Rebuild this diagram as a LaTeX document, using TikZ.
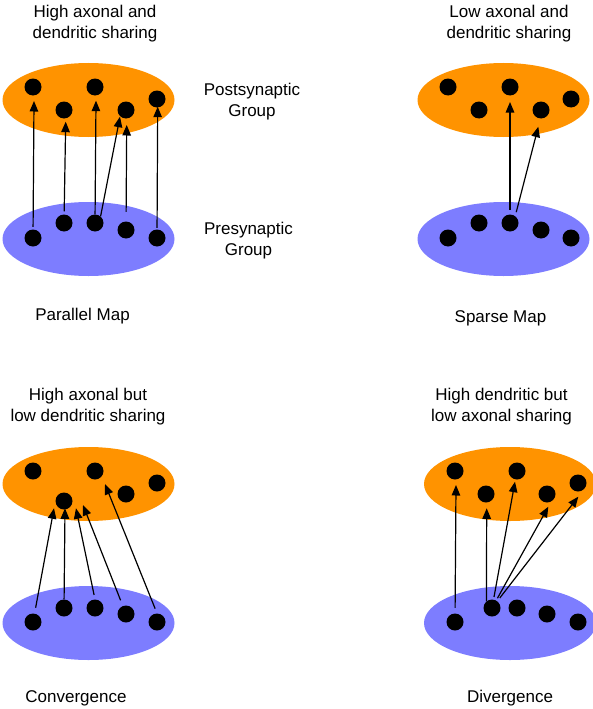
\documentclass[tikz,border=0pt]{standalone}
\usepackage{fontspec}
\setmainfont{Liberation Sans}
\usetikzlibrary{arrows.meta}
\definecolor{postfill}{RGB}{255,147,0}
\definecolor{prefill}{RGB}{125,125,255}
\begin{document}
\begin{tikzpicture}[x=1pt,y=-1pt,
  post/.style={fill=postfill},
  pre/.style={fill=prefill},
  dot/.style={circle,fill=black,inner sep=0pt,minimum size=17pt},
  syn/.style={-{Triangle[length=10.5pt,width=8.5pt]},line width=1.2pt,black},
  lbl/.style={font=\fontsize{17}{21}\selectfont,align=center,anchor=base,inner sep=0pt}]
\useasboundingbox (0,0) rectangle (592,709);

% ---------- group ellipses ----------
\fill[post] (88.5,100) ellipse [x radius=86pt,y radius=37pt];
\fill[pre]  (88.5,239) ellipse [x radius=86pt,y radius=37pt];
\fill[post] (503.5,100) ellipse [x radius=86pt,y radius=37pt];
\fill[pre]  (503.5,239) ellipse [x radius=86pt,y radius=37pt];
\fill[post] (88.5,484) ellipse [x radius=86pt,y radius=37pt];
\fill[pre]  (88.5,623) ellipse [x radius=86pt,y radius=37pt];
\fill[post] (510,484) ellipse [x radius=86pt,y radius=37pt];
\fill[pre]  (510,623) ellipse [x radius=86pt,y radius=37pt];

% ---------- neurons ----------
% parallel map
\foreach \n/\x/\y in {1/33/87,2/64/110,3/95/87,4/126/110,5/157/99}
  \node[dot] (po\n) at (\x,\y) {};
\foreach \n/\x/\y in {1/33/238,2/64/223,3/95/223,4/126/230,5/157/238}
  \node[dot] (pb\n) at (\x,\y) {};
% sparse map
\foreach \n/\x/\y in {1/448/87,2/479/110,3/510/87,4/541/110,5/571/99}
  \node[dot] (so\n) at (\x,\y) {};
\foreach \n/\x/\y in {1/448/238,2/479/223,3/510/223,4/541/230,5/571/238}
  \node[dot] (sb\n) at (\x,\y) {};
% convergence
\foreach \n/\x/\y in {1/33/471,2/64/501,3/95/471,4/126/494,5/157/483}
  \node[dot] (co\n) at (\x,\y) {};
\foreach \n/\x/\y in {1/33/622,2/64/608,3/95/608,4/126/614,5/157/622}
  \node[dot] (cb\n) at (\x,\y) {};
% divergence
\foreach \n/\x/\y in {1/455/471,2/486/494,3/517/471,4/547/494,5/578/483}
  \node[dot] (do\n) at (\x,\y) {};
\foreach \n/\x/\y in {1/455/622,2/492/608,3/517/608,4/547/614,5/578/622}
  \node[dot] (db\n) at (\x,\y) {};

% ---------- arrow tips (just below the target cells) ----------
\coordinate (pt1) at (34,101);
\coordinate (pt2) at (65.7,121.7);
\coordinate (pt3) at (96,100.7);
\coordinate (pt4) at (120,116.7);
\coordinate (pt5) at (126.7,125);
\coordinate (pt6) at (157.7,106.7);

\coordinate (st1) at (510,102);
\coordinate (st2) at (538.3,126.7);

\coordinate (ct1) at (54,508.3);
\coordinate (ct2) at (65,508.3);
\coordinate (ct3) at (76,508.3);
\coordinate (ct4) at (83,505);
\coordinate (ct5) at (105,484);

\coordinate (dt1) at (456,485);
\coordinate (dt2) at (486.7,508.3);
\coordinate (dt3) at (515,481.7);
\coordinate (dt4) at (548.3,506.7);
\coordinate (dt5) at (578.3,496.7);

% ---------- projections ----------
\draw[syn,shorten <=2.5pt] (pb1) -- (pt1);
\draw[syn,shorten <=3pt]   (pb2) -- (pt2);
\draw[syn]                 (pb3) -- (pt3);
\draw[syn]                 (pb3.50) -- (pt4);
\draw[syn,shorten <=9.5pt] (pb4) -- (pt5);
\draw[syn,shorten <=1.5pt] (pb5) -- (pt6);

\draw[syn,shorten <=4.5pt] (sb3) -- (st1);
\draw[syn,shorten <=4pt]   (sb3.53) -- (st2);

\draw[syn,shorten <=5.8pt] (cb1) -- (ct1);
\draw[syn]                 (cb2) -- (ct2);
\draw[syn,shorten <=4.5pt] (cb3.north) -- (ct3);
\draw[syn,shorten <=6pt]   (cb4) -- (ct4);
\draw[syn,shorten <=5pt]   (cb5.north) -- (ct5);

\draw[syn,shorten <=5.5pt] (db1) -- (dt1);
\draw[syn]                 (db2.130) -- (dt2);
\draw[syn,shorten <=2.5pt] (db2) -- (dt3);
\draw[syn,shorten <=2.5pt] (db2) -- (dt4);
\draw[syn,shorten <=4pt]   (db2) -- (dt5);

% ---------- labels (base = baseline of the last line) ----------
\node[lbl] (tpar) at (95,39) {High axonal and\\dendritic sharing};
\node[lbl] (tpost) at (252,116) {Postsynaptic\\Group};
\node[lbl] (tpre) at (248.5,255) {Presynaptic\\Group};
\node[lbl] (npar) at (82.5,320) {Parallel Map};
\node[lbl] (tspa) at (509,39) {Low axonal and\\dendritic sharing};
\node[lbl] (nspa) at (500.5,322) {Sparse Map};
\node[lbl] (tcon) at (88,421) {High axonal but\\low dendritic sharing};
\node[lbl] (tdiv) at (501.5,421) {High dendritic but\\low axonal sharing};
\node[lbl] (ncon) at (76,702) {Convergence};
\node[lbl] (ndiv) at (510,702) {Divergence};
\end{tikzpicture}
\end{document}
